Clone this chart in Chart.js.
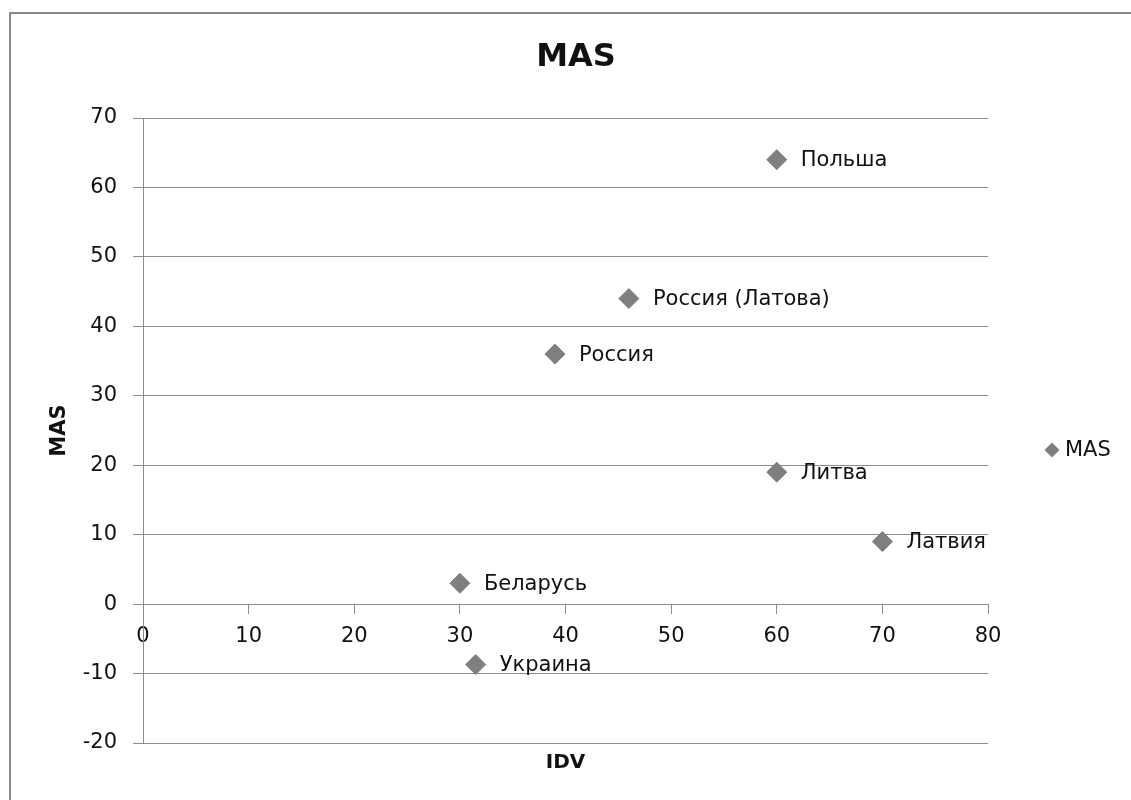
<!DOCTYPE html>
<html>
<head>
<meta charset="utf-8">
<script src="https://cdn.jsdelivr.net/npm/chart.js@4"></script>
<style>
  html, body { margin: 0; padding: 0; background: #ffffff; }
  #wrap { width: 1131px; height: 800px; position: relative; }
</style>
</head>
<body>
<div id="wrap"><canvas id="masChart"></canvas></div>
<script>
// data
const countries = ['Польша', 'Россия (Латова)', 'Россия', 'Литва', 'Латвия', 'Беларусь', 'Украина'];
const idvValues = [60, 46, 39, 60, 70, 30, 31.5];
const masValues = [64, 44, 36, 19, 9, 3, -8.7];
const xTicks = [0, 10, 20, 30, 40, 50, 60, 70, 80];
const yTicks = [-20, -10, 0, 10, 20, 30, 40, 50, 60, 70];

const FONT = "'DejaVu Sans', sans-serif";
const GRID = '#8c8c8c';
const MARKER = '#7f7f7f';

// frame, title, axis titles, point labels and the legend entry
const excelDecor = {
    id: 'excelDecor',
    beforeDraw(chart) {
        const ctx = chart.ctx;
        ctx.save();
        ctx.strokeStyle = '#898989';
        ctx.lineWidth = 2;
        ctx.beginPath();
        ctx.moveTo(10, 800);
        ctx.lineTo(10, 13);
        ctx.lineTo(1131, 13);
        ctx.stroke();
        ctx.restore();
    },
    afterDatasetsDraw(chart) {
        const ctx = chart.ctx;
        const area = chart.chartArea;
        ctx.save();
        ctx.fillStyle = '#111';

        // point labels
        ctx.font = '21px ' + FONT;
        ctx.textAlign = 'left';
        ctx.textBaseline = 'middle';
        chart.getDatasetMeta(0).data.forEach((pt, i) => {
            ctx.fillText(countries[i], pt.x + 24, pt.y + 1);
        });

        // title
        ctx.font = 'bold 32px ' + FONT;
        ctx.textAlign = 'center';
        ctx.fillText('MAS', 576, 58);

        // axis titles
        ctx.font = 'bold 20px ' + FONT;
        ctx.fillText('IDV', (area.left + area.right) / 2, 763);
        ctx.save();
        ctx.translate(60, (area.top + area.bottom) / 2);
        ctx.rotate(-Math.PI / 2);
        ctx.font = 'bold 21px ' + FONT;
        ctx.fillText('MAS', 0, 0);
        ctx.restore();

        // legend entry on the right
        ctx.fillStyle = MARKER;
        ctx.beginPath();
        ctx.moveTo(1044.5, 450); ctx.lineTo(1052, 442.5); ctx.lineTo(1059.5, 450); ctx.lineTo(1052, 457.5);
        ctx.closePath();
        ctx.fill();
        ctx.fillStyle = '#111';
        ctx.font = '21px ' + FONT;
        ctx.textAlign = 'left';
        ctx.fillText(chart.data.datasets[0].label, 1065, 451);
        ctx.restore();
    }
};

const ctx = document.getElementById('masChart');
new Chart(ctx, {
    type: 'scatter',
    data: {
        datasets: [{
            label: 'MAS',
            data: idvValues.map((v, i) => ({ x: v, y: masValues[i] })),
            pointStyle: 'rectRot',
            pointRadius: 10,
            pointHoverRadius: 10,
            pointBorderWidth: 1,
            backgroundColor: MARKER,
            borderColor: MARKER
        }]
    },
    options: {
        responsive: true,
        maintainAspectRatio: false,
        animation: false,
        layout: { padding: { left: 0, top: 118, right: 143, bottom: 57 } },
        plugins: {
            legend: { display: false },
            title: { display: false },
            tooltip: { enabled: false }
        },
        scales: {
            x: {
                type: 'linear',
                position: { y: 0 },
                min: 0,
                max: 80,
                afterFit: (scale) => { scale.height = 0; },
                afterBuildTicks: (scale) => { scale.ticks = xTicks.map(v => ({ value: v })); },
                grid: { drawOnChartArea: false, drawTicks: true, tickLength: 9, color: GRID },
                border: { display: true, color: GRID, width: 1 },
                ticks: {
                    color: '#111',
                    font: { family: FONT, size: 21 },
                    padding: 11,
                    maxRotation: 0
                }
            },
            y: {
                type: 'linear',
                position: 'left',
                min: -20,
                max: 70,
                afterFit: (scale) => { scale.width = 143; },
                afterBuildTicks: (scale) => { scale.ticks = yTicks.map(v => ({ value: v })); },
                grid: { drawOnChartArea: true, drawTicks: true, tickLength: 10, color: GRID },
                border: { display: true, color: GRID, width: 1 },
                ticks: {
                    color: '#111',
                    font: { family: FONT, size: 21 },
                    padding: 16
                }
            }
        }
    },
    plugins: [excelDecor]
});
</script>
</body>
</html>
